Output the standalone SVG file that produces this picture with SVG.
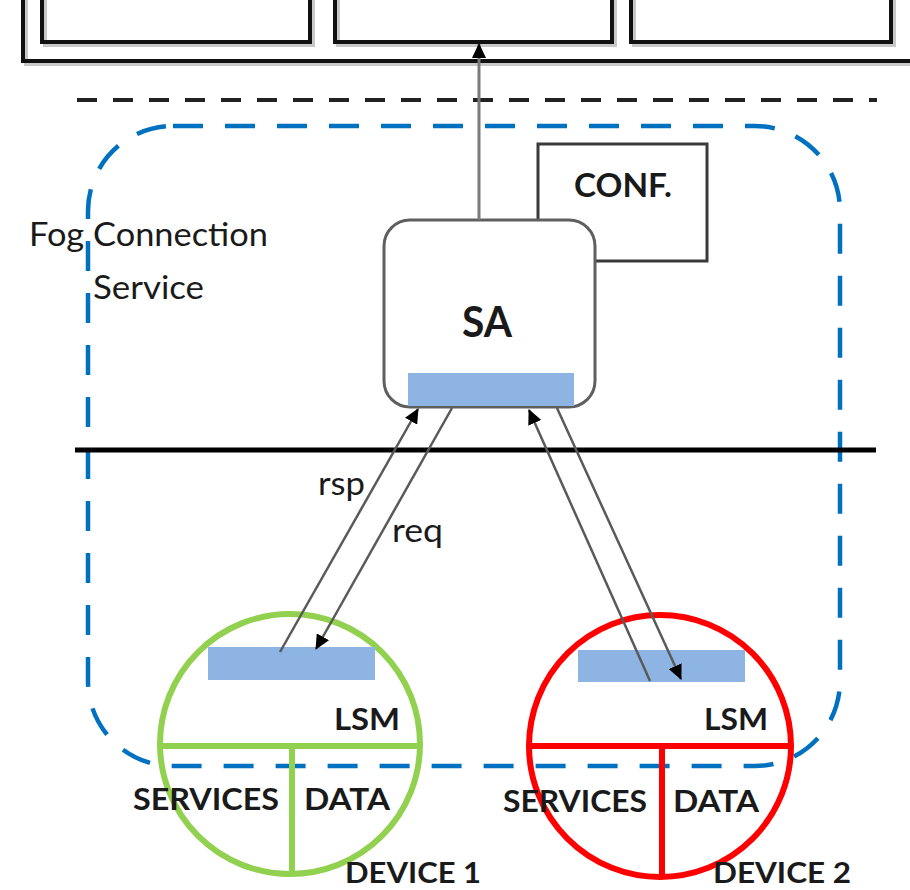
<svg xmlns="http://www.w3.org/2000/svg" width="910" height="890" viewBox="0 0 910 890">
<style>
.t{font-family:Lato,"Liberation Sans",Arial,sans-serif;fill:#1a1a1a}
.b{font-weight:bold}
.top{fill:none;stroke:#111;stroke-width:4}
.sh{fill:none;stroke:#c8c8c8;stroke-width:4}
.arr{stroke:#5a5a5a;stroke-width:2.5;fill:none;marker-end:url(#ah)}
.bar{fill:#8EB4E3}
</style>
<defs>
<marker id="ah" markerUnits="userSpaceOnUse" markerWidth="16" markerHeight="14" refX="14" refY="7" orient="auto">
<path d="M0,0 L15,7 L0,14 Z" fill="#000"/>
</marker>
</defs>
<rect width="910" height="890" fill="#fff"/>

<g id="top-system">
<path class="sh" d="M26,0 V64 H910"/>
<path class="sh" d="M45,0 V45 H313 V0 M338,0 V45 H615 V0 M634,0 V45 H894 V0"/>
<path class="top" d="M23,0 V61 H910"/>
<path class="top" d="M42,0 V42 H310 V0 M335,0 V42 H612 V0 M631,0 V42 H891 V0"/>
</g>

<g id="separator-top">
<line x1="77" y1="100" x2="877" y2="100" stroke="#222" stroke-width="4" stroke-dasharray="20 16"/>
</g>

<g id="fog-connection-service">
<rect x="88" y="126" width="752" height="640" rx="85" ry="85" fill="none" stroke="#0070C0" stroke-width="4.5" stroke-dasharray="30 22"/>
<text class="t" x="29" y="246" font-size="32" textLength="239" lengthAdjust="spacingAndGlyphs">Fog Connection</text>
<text class="t" x="93" y="299" font-size="32" textLength="111" lengthAdjust="spacingAndGlyphs">Service</text>
</g>

<g id="separator-mid">
<line x1="75" y1="450" x2="876" y2="450" stroke="#000" stroke-width="5"/>
</g>

<g id="conf">
<rect x="538" y="144" width="169" height="117" fill="#fff" stroke="#3a3a3a" stroke-width="3"/>
<text class="t b" x="574" y="197" font-size="32" textLength="98" lengthAdjust="spacingAndGlyphs">CONF.</text>
</g>

<g id="sa">
<rect x="384" y="220" width="211" height="187" rx="26" ry="26" fill="#fff" stroke="#5f5f5f" stroke-width="3"/>
<rect class="bar" x="408" y="373" width="166" height="33"/>
<text class="t b" x="462" y="337" font-size="42" textLength="50" lengthAdjust="spacingAndGlyphs">SA</text>
</g>

<g id="device1">
<circle cx="290" cy="744" r="130" fill="none" stroke="#92D050" stroke-width="6"/>
<line x1="160" y1="746" x2="420" y2="746" stroke="#92D050" stroke-width="6"/>
<line x1="292" y1="746" x2="292" y2="873" stroke="#92D050" stroke-width="6"/>
<rect class="bar" x="208" y="647" width="167" height="33"/>
<text class="t b" x="334" y="730" font-size="30" textLength="66" lengthAdjust="spacingAndGlyphs">LSM</text>
<text class="t b" x="133" y="810" font-size="31" textLength="146" lengthAdjust="spacingAndGlyphs">SERVICES</text>
<text class="t b" x="304" y="810" font-size="31" textLength="86" lengthAdjust="spacingAndGlyphs">DATA</text>
<text class="t b" x="345" y="883" font-size="28" textLength="136" lengthAdjust="spacingAndGlyphs">DEVICE 1</text>
</g>

<g id="device2">
<circle cx="660" cy="746" r="131" fill="none" stroke="#FF0000" stroke-width="6"/>
<line x1="529" y1="746" x2="791" y2="746" stroke="#FF0000" stroke-width="6"/>
<line x1="662" y1="746" x2="662" y2="876" stroke="#FF0000" stroke-width="6"/>
<rect class="bar" x="578" y="650" width="167" height="32"/>
<text class="t b" x="704" y="730" font-size="30" textLength="64" lengthAdjust="spacingAndGlyphs">LSM</text>
<text class="t b" x="503" y="812" font-size="31" textLength="144" lengthAdjust="spacingAndGlyphs">SERVICES</text>
<text class="t b" x="673" y="812" font-size="31" textLength="86" lengthAdjust="spacingAndGlyphs">DATA</text>
<text class="t b" x="713" y="883" font-size="28" textLength="138" lengthAdjust="spacingAndGlyphs">DEVICE 2</text>
</g>

<g id="connectors">
<line x1="479" y1="220" x2="479" y2="44" stroke="#7a7a7a" stroke-width="3" marker-end="url(#ah)"/>
<line class="arr" x1="280" y1="652" x2="418" y2="409"/>
<line class="arr" x1="452" y1="408" x2="316" y2="649"/>
<line class="arr" x1="650" y1="681" x2="529" y2="410"/>
<line class="arr" x1="557" y1="408" x2="681" y2="679"/>
<text class="t" x="318" y="495" font-size="32" textLength="47" lengthAdjust="spacingAndGlyphs">rsp</text>
<text class="t" x="392" y="542" font-size="32" textLength="51" lengthAdjust="spacingAndGlyphs">req</text>
</g>
</svg>
